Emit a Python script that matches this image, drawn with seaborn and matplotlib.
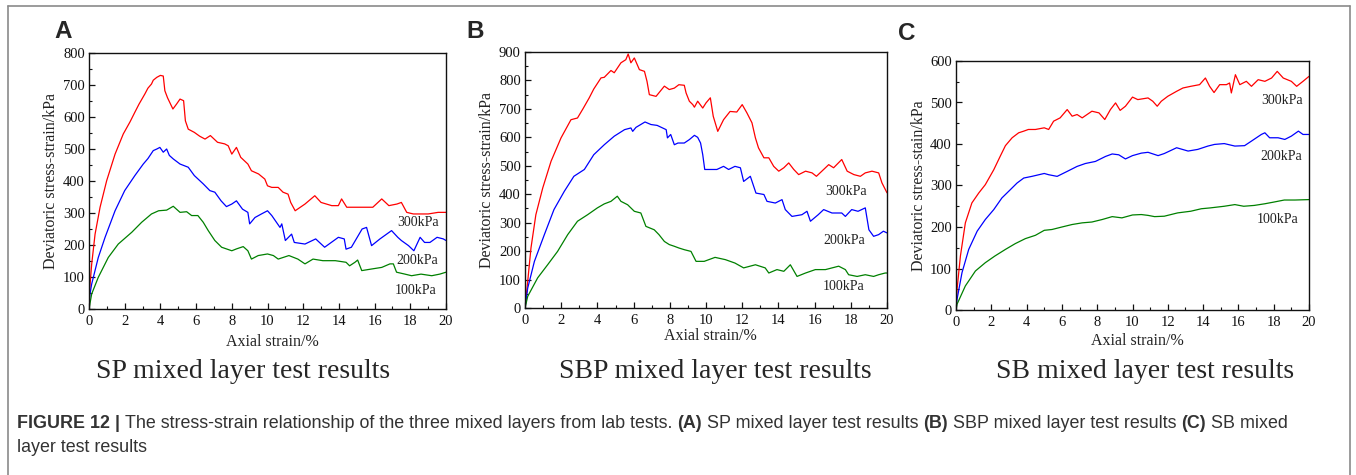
import matplotlib
matplotlib.use("Agg")
import matplotlib.pyplot as plt
import numpy as np
import pandas as pd
import seaborn as sns
from matplotlib.ticker import MultipleLocator
from matplotlib.lines import Line2D
from matplotlib import font_manager

# ---------------- data ----------------
# Panel A : SP mixed layer
A300_x = [0, 0.05, 0.15, 0.34, 0.62, 0.99, 1.46, 1.92, 2.3, 2.57, 2.8, 3.13, 3.3, 3.5, 3.6, 3.8, 4.0, 4.16, 4.25, 4.4,
          4.7, 4.9, 5.1, 5.3, 5.4, 5.56, 5.9, 6.2, 6.5, 6.8, 7.2, 7.6, 7.8, 8.0, 8.26, 8.5, 8.9, 9.1, 9.5, 9.85, 10.0,
          10.24, 10.6, 10.87, 11.15, 11.3, 11.55, 12.1, 12.65, 13.0, 13.6, 13.97, 14.15, 14.44, 14.9, 15.46, 15.9,
          16.4, 16.8, 17.25, 17.5, 17.8, 18.17, 18.63, 19.0, 19.56, 20.0]
A300_y = [0, 70, 140, 234, 318, 401, 484, 547, 585, 615, 640, 672, 690, 703, 715, 724, 730, 728, 682, 660,
          625, 640, 656, 651, 588, 562, 552, 540, 531, 542, 521, 516, 510, 484, 505, 474, 453, 432, 422, 406, 385,
          380, 380, 365, 359, 333, 307, 328, 354, 333, 323, 323, 344, 318, 318, 318, 318,
          344, 323, 328, 333, 302, 297, 297, 297, 302, 302]

A200_x = [0, 0.05, 0.15, 0.52, 0.9, 1.46, 2.0, 2.57, 3.04, 3.3, 3.6, 3.8, 3.97, 4.16, 4.35, 4.5, 4.72, 5.1, 5.56,
          5.9, 6.4, 6.77, 7.05, 7.4, 7.7, 8.0, 8.26, 8.6, 8.9, 9.0, 9.3, 9.66, 10.0, 10.24, 10.7, 10.8, 11.0, 11.35,
          11.5, 12.1, 12.7, 13.2, 13.97, 14.3, 14.4, 14.7, 15.3, 15.55, 15.83, 16.3, 16.95, 17.3, 17.5, 17.9, 18.2,
          18.55, 18.8, 19.1, 19.5, 19.85, 20.0]
A200_y = [0, 45, 78, 161, 224, 307, 370, 417, 453, 470, 495, 500, 505, 490, 500, 480, 469, 453, 443,
          417, 391, 370, 365, 338, 320, 328, 338, 312, 302, 266, 286, 297, 307, 292, 255, 266, 214, 234,
          208, 203, 219, 193, 224, 219, 187, 193, 250, 255, 198, 219, 245, 224, 214, 198, 182,
          224, 208, 208, 224, 219, 214]

A100_x = [0, 0.15, 0.52, 1.08, 1.64, 2.4, 2.95, 3.5, 3.9, 4.35, 4.72, 5.1, 5.47, 5.75, 6.1, 6.4, 6.68, 7.05, 7.43,
          8.0, 8.27, 8.64, 8.9, 9.1, 9.48, 10.0, 10.33, 10.6, 11.2, 11.7, 12.1, 12.55, 13.1, 13.8, 14.4, 14.6, 14.9,
          15.05, 15.28, 15.83, 16.4, 16.86, 17.05, 17.23, 17.7, 18.07, 18.6, 19.2, 19.65, 20.0]
A100_y = [0, 47, 99, 161, 203, 240, 271, 297, 307, 309, 321, 302, 304, 292, 292, 271, 245, 214, 193,
          182, 188, 195, 182, 156, 167, 172, 167, 156, 167, 156, 141, 156, 151, 151, 146, 135, 146,
          153, 120, 125, 130, 141, 141, 115, 109, 104, 109, 104, 109, 115]

# Panel B : SBP mixed layer
B300_x = [0, 0.15, 0.33, 0.6, 0.98, 1.44, 1.99, 2.54, 2.9, 3.2, 3.55, 3.8, 4.2, 4.38, 4.75, 4.93, 5.3, 5.57, 5.7,
          5.85, 6.04, 6.32, 6.6, 6.74, 6.87, 7.24, 7.7, 7.97, 8.25, 8.5, 8.8, 8.9, 9.08, 9.27, 9.36, 9.54, 9.82,
          10.0, 10.24, 10.4, 10.65, 10.97, 11.33, 11.7, 12.0, 12.26, 12.54, 12.73, 12.9, 13.2, 13.47, 13.74, 14.02,
          14.3, 14.57, 14.85, 15.12, 15.5, 15.86, 16.1, 16.5, 16.78, 17.05, 17.5, 17.8, 18.17, 18.53, 18.8, 19.17,
          19.54, 19.72, 20.0]
B300_y = [0, 94, 211, 328, 422, 516, 598, 662, 668, 700, 739, 770, 809, 811, 835, 827, 862, 873, 893,
          862, 879, 838, 832, 797, 750, 744, 780, 768, 773, 785, 783, 756, 727, 715, 706, 727, 703,
          721, 739, 674, 621, 662, 691, 689, 715, 686, 651, 598, 563, 528, 528, 498, 481,
          493, 510, 487, 469, 481, 475, 463, 487, 504, 493, 522, 481, 469, 463, 475, 481,
          475, 440, 405]

B200_x = [0, 0.15, 0.52, 1.07, 1.6, 2.17, 2.7, 3.28, 3.8, 4.38, 4.93, 5.5, 5.85, 5.95, 6.13, 6.63, 6.96, 7.3, 7.6,
          7.8, 7.87, 8.05, 8.25, 8.45, 8.8, 9.08, 9.36, 9.54, 9.7, 9.82, 9.93, 10.15, 10.6, 10.97, 11.25, 11.6, 11.9,
          12.08, 12.45, 12.76, 13.2, 13.37, 13.83, 14.2, 14.38, 14.75, 15.3, 15.58, 15.77, 16.2, 16.5, 16.96, 17.5,
          17.7, 18.05, 18.4, 18.8, 19.0, 19.26, 19.54, 19.8, 20.0]
B200_y = [0, 70, 164, 258, 346, 410, 463, 487, 539, 574, 604, 627, 633, 621, 635, 654, 645, 642, 633,
          627, 598, 610, 574, 580, 580, 592, 607, 600, 580, 539, 487, 487, 487, 498, 487, 498, 493,
          445, 463, 404, 399, 375, 369, 381, 346, 322, 328, 340, 305, 328, 346, 334, 334,
          322, 346, 340, 352, 275, 252, 258, 270, 264]

B100_x = [0, 0.15, 0.7, 1.25, 1.8, 2.36, 2.9, 3.46, 4.0, 4.38, 4.75, 5.1, 5.3, 5.67, 6.04, 6.4, 6.68, 7.14, 7.4,
          7.7, 7.97, 8.25, 8.5, 8.8, 9.17, 9.45, 9.9, 10.5, 11.07, 11.6, 12.08, 12.73, 13.27, 13.47, 13.92, 14.3,
          14.66, 15.03, 15.5, 16.04, 16.6, 17.33, 17.7, 17.88, 18.35, 18.8, 19.26, 19.54, 19.9, 20.0]
B100_y = [0, 41, 106, 152, 199, 258, 305, 328, 352, 366, 375, 393, 375, 363, 340, 334, 287, 275, 258,
          234, 223, 217, 211, 205, 199, 164, 164, 178, 170, 158, 141, 152, 141, 123, 135, 129,
          152, 111, 123, 135, 135, 147, 135, 117, 111, 117, 111, 117, 123, 123]

# Panel C : SB mixed layer
C300_x = [0, 0.06, 0.25, 0.53, 0.9, 1.29, 1.66, 2.14, 2.5, 2.8, 3.18, 3.55, 3.84, 4.1, 4.5, 5.0, 5.25, 5.53, 5.9,
          6.3, 6.58, 6.86, 7.15, 7.7, 8.1, 8.43, 8.75, 9.04, 9.3, 9.6, 10.0, 10.3, 10.88, 11.15, 11.4, 11.63, 12.0,
          12.5, 12.86, 13.3, 13.8, 14.13, 14.37, 14.62, 14.94, 15.32, 15.5, 15.6, 15.83, 16.08, 16.45, 16.74, 17.12,
          17.5, 17.88, 18.2, 18.54, 19.0, 19.3, 19.66, 20.0]
C300_y = [0, 50, 130, 210, 258, 282, 302, 338, 370, 396, 415, 427, 431, 435, 435, 439, 435, 455, 463,
          483, 467, 471, 463, 479, 475, 459, 483, 499, 481, 491, 513, 507, 511, 503, 491, 503, 515,
          527, 535, 539, 543, 559, 539, 524, 543, 543, 547, 523, 567, 543, 551, 539, 555,
          551, 559, 575, 559, 551, 539, 551, 563]

C200_x = [0, 0.06, 0.34, 0.72, 1.2, 1.66, 2.14, 2.6, 3.08, 3.46, 3.84, 4.3, 5.0, 5.25, 5.73, 6.3, 6.86, 7.33, 7.9,
          8.47, 8.85, 9.22, 9.6, 10.0, 10.5, 10.88, 11.45, 11.8, 12.5, 13.15, 13.7, 14.27, 14.65, 15.2, 15.8, 16.35,
          16.74, 17.3, 17.5, 17.77, 18.25, 18.63, 19.0, 19.4, 19.66, 20.0]
C200_y = [0, 26, 90, 146, 190, 218, 242, 270, 290, 306, 318, 322, 329, 326, 322, 334, 346, 353, 358,
          370, 376, 374, 364, 372, 378, 380, 372, 377, 391, 383, 387, 395, 399, 401, 395, 396,
          407, 423, 427, 415, 415, 411, 419, 431, 423, 423]

C100_x = [0, 0.06, 0.53, 1.1, 1.66, 2.2, 2.8, 3.36, 3.93, 4.5, 5.0, 5.44, 6.0, 6.58, 7.15, 7.7, 8.28, 8.85, 9.4,
          10.0, 10.5, 10.88, 11.25, 11.8, 12.56, 13.3, 13.9, 14.4, 15.2, 15.8, 16.3, 16.9, 17.5, 18.0, 18.6, 19.2,
          20.0]
C100_y = [0, 14, 58, 94, 114, 130, 146, 160, 172, 180, 192, 194, 200, 206, 210, 212, 218, 225, 222,
          229, 230, 228, 225, 226, 234, 238, 244, 246, 250, 254, 250, 252, 256, 260, 265, 265,
          266]

series_names = ["300kPa", "200kPa", "100kPa"]
panel_letters = ["A", "B", "C"]
panel_titles = ["SP mixed layer test results", "SBP mixed layer test results", "SB mixed layer test results"]
y_labels = ["Deviatoric stress-strain/kPa", "Deviatoric stress-strain/kPa", "Deviatoric stress-stain/kPa"]
x_label = "Axial strain/%"
caption_line1 = [("FIGURE 12 |", "bold"),
                 ("The stress-strain relationship of the three mixed layers from lab tests.", "normal"),
                 ("(A)", "bold"), ("SP mixed layer test results", "normal"),
                 ("(B)", "bold"), ("SBP mixed layer test results", "normal"),
                 ("(C)", "bold"), ("SB mixed", "normal")]
caption_line2 = [("layer test results", "normal")]

# ---------------- style ----------------
sns.set_style("ticks")
plt.rcParams['font.family'] = ['Liberation Serif', 'DejaVu Serif']
colors = ["#ff0000", "#0000ff", "#008000"]

W, H = 1356, 475
fig = plt.figure(figsize=(W / 100, H / 100), dpi=100)
fig.patch.set_facecolor("white")

def px_axes(l, t, r, b):
    return fig.add_axes([l / W, 1 - b / H, (r - l) / W, (b - t) / H])

panels = [
    dict(rect=(89, 53, 446, 309), ymax=800,
         data=[(A300_x, A300_y), (A200_x, A200_y), (A100_x, A100_y)],
         lab=[(18.45, 269), (18.4, 150), (18.3, 59)],
         letter=(63, 32), title=(243, 372), ylab=-0.084, xlab=-0.098),
    dict(rect=(525, 52, 887, 308), ymax=900,
         data=[(B300_x, B300_y), (B200_x, B200_y), (B100_x, B100_y)],
         lab=[(17.75, 411), (17.65, 236), (17.6, 74)],
         letter=(475, 32), title=(715, 372), ylab=-0.083, xlab=-0.078),
    dict(rect=(956, 61, 1309, 310), ymax=600,
         data=[(C300_x, C300_y), (C200_x, C200_y), (C100_x, C100_y)],
         lab=[(18.5, 506), (18.4, 369), (18.2, 217)],
         letter=(907, 33), title=(1145, 372), ylab=-0.082, xlab=-0.092),
]

for i, p in enumerate(panels):
    ax = px_axes(*p["rect"])
    for (xs, ys), c in zip(p["data"], colors):
        df = pd.DataFrame({"strain": xs, "stress": ys})
        sns.lineplot(data=df, x="strain", y="stress", color=c, linewidth=0.9,
                     estimator=None, sort=False, ax=ax)
    for (lx, ly), name in zip(p["lab"], series_names):
        ax.text(lx, ly, name, ha="center", va="center", fontsize=10, color="#222222")
    ax.set_xlim(0, 20)
    ax.set_ylim(0, p["ymax"])
    ax.xaxis.set_major_locator(MultipleLocator(2))
    ax.xaxis.set_minor_locator(MultipleLocator(1))
    ax.yaxis.set_major_locator(MultipleLocator(100))
    ax.yaxis.set_minor_locator(MultipleLocator(50))
    ax.tick_params(which="both", direction="in", top=False, right=False, colors="#111111")
    ax.tick_params(which="major", length=4, width=0.9, labelsize=10.5)
    ax.tick_params(which="minor", length=2.3, width=0.8)
    ax.tick_params(axis="x", pad=4.5)
    ax.tick_params(axis="y", pad=3)
    for s in ax.spines.values():
        s.set_linewidth(1.0)
        s.set_color("#111111")
    ax.set_xlabel(x_label, fontsize=11.5, color="#222222")
    ax.set_ylabel(y_labels[i], fontsize=11.5, color="#222222")
    ax.xaxis.set_label_coords(0.513, p["xlab"])
    ax.yaxis.set_label_coords(p["ylab"], 0.5)
    lx, ly = p["letter"]
    fig.text(lx / W, 1 - ly / H, panel_letters[i], ha="center", va="center", fontsize=17.5,
             fontweight="bold", family=["Liberation Sans", "DejaVu Sans"])
    tx, ty = p["title"]
    fig.text(tx / W, 1 - ty / H, panel_titles[i], ha="center", va="center", fontsize=20)

# ---------------- caption ----------------
names = {f.name for f in font_manager.fontManager.ttflist}
cap_family = ["Liberation Sans Narrow"] if "Liberation Sans Narrow" in names else ["Liberation Sans"]
cap_family = cap_family + ["DejaVu Sans"]
renderer = fig.canvas.get_renderer()

def width_of(s, size, weight):
    t = fig.text(0, 0, s, fontsize=size, fontweight=weight, family=cap_family)
    w = t.get_window_extent(renderer=renderer).width
    t.remove()
    return w

def line_width(pieces, size):
    sp = width_of("x x", size, "normal") - width_of("xx", size, "normal")
    return sum(width_of(s, size, w) for s, w in pieces) + sp * (len(pieces) - 1), sp

ref_size = 10
w10, _ = line_width(caption_line1, ref_size)
cap_size = ref_size * (1290 - 17) / w10

def place(pieces, x0, y, size):
    _, sp = line_width(pieces, size)
    x = x0
    for s, w in pieces:
        t = fig.text(x / W, 1 - y / H, s, fontsize=size, fontweight=w, family=cap_family,
                     ha="left", va="center", color="#333333")
        x += t.get_window_extent(renderer=renderer).width + sp

place(caption_line1, 17, 423, cap_size)
place(caption_line2, 17, 447, cap_size)

# ---------------- outer frame ----------------
fc = "#8a8a8a"
fig.add_artist(Line2D([8 / W, 1350 / W], [1 - 6 / H, 1 - 6 / H], color=fc, lw=1.2))
fig.add_artist(Line2D([8 / W, 8 / W], [1 - 6 / H, 0], color=fc, lw=1.2))
fig.add_artist(Line2D([1350 / W, 1350 / W], [1 - 6 / H, 0], color=fc, lw=1.2))

fig.savefig("out.png", dpi=100, facecolor="white")
